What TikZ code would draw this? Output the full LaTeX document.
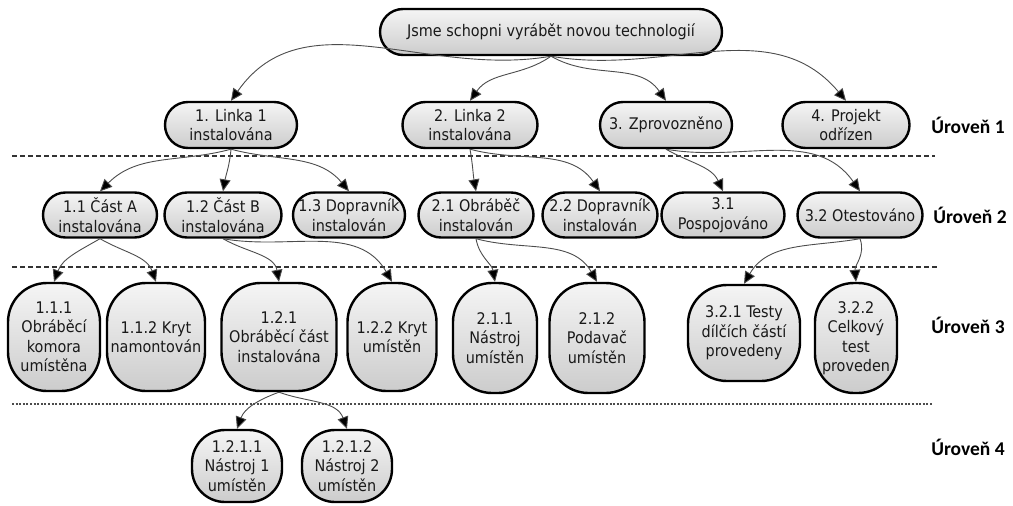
\documentclass[tikz,border=0pt]{standalone}
\usepackage{fontspec}
\setmainfont{Liberation Sans}
\newfontfamily\nodefont{DejaVu Sans Condensed}
\newfontfamily\lvlfont{Carlito}
\usetikzlibrary{arrows.meta}
\begin{document}
\begin{tikzpicture}[x=1pt,y=1pt,
  box/.style={draw=black, line width=2.4pt, top color=black!4, bottom color=black!20,
    align=center, inner sep=0pt, text=black!90,
    font=\nodefont\fontsize{16}{19.5}\selectfont},
  pill/.style={box, rounded corners=22.5pt, minimum height=45pt},
  tall/.style={box, rounded corners=39pt, minimum height=108pt},
  conn/.style={draw=black!70, line width=0.9pt, -{Triangle[length=12pt,width=11pt,fill=black]}},
  sepline/.style={draw=black!80, line width=2pt, dash pattern=on 5pt off 3pt},
  sepfine/.style={draw=black!70, line width=1.3pt, dash pattern=on 2pt off 1.6pt},
  lvl/.style={font=\lvlfont\bfseries\fontsize{19.5}{22}\selectfont, text=black}
]
\useasboundingbox (0,0) rectangle (1013,-506);

% separators
\coordinate (s1a) at (12,-156); \coordinate (s1b) at (935,-156);
\coordinate (s2a) at (12,-267); \coordinate (s2b) at (937,-267);
\coordinate (s3a) at (12,-404); \coordinate (s3b) at (933,-404);
\draw[sepline] (s1a) -- (s1b);
\draw[sepline] (s2a) -- (s2b);
\draw[sepfine] (s3a) -- (s3b);

% level labels
\node[lvl] (u1) at (968,-125) {Úroveň 1};
\node[lvl] (u2) at (970,-215) {Úroveň 2};
\node[lvl] (u3) at (968,-325) {Úroveň 3};
\node[lvl] (u4) at (968,-447) {Úroveň 4};

% nodes
\node[box, rounded corners=23pt, minimum width=342pt, minimum height=46pt] (root) at (551,-32) {Jsme schopni vyrábět novou technologií};

\node[pill, minimum width=132pt, minimum height=46pt, rounded corners=23pt] (n1) at (231,-125) {1. Linka 1\\instalována};
\node[pill, minimum width=135pt, minimum height=46pt, rounded corners=23pt] (n2) at (470,-125) {2. Linka 2\\instalována};
\node[pill, minimum width=132pt, minimum height=46pt, rounded corners=23pt] (n3) at (666,-125) {3. Zprovozněno};
\node[pill, minimum width=127pt, minimum height=46pt, rounded corners=23pt] (n4) at (846,-125) {4. Projekt\\odřízen};

\node[pill, minimum width=114pt] (n11) at (100,-215) {1.1 Část A\\instalována};
\node[pill, minimum width=117pt] (n12) at (223,-215) {1.2 Část B\\instalována};
\node[pill, minimum width=112pt] (n13) at (349,-215) {1.3 Dopravník\\instalován};
\node[pill, minimum width=115pt] (n21) at (476,-215) {2.1 Obráběč\\instalován};
\node[pill, minimum width=115pt] (n22) at (600,-215) {2.2 Dopravník\\instalován};
\node[pill, minimum width=123pt] (n31) at (723,-215) {3.1\\Pospojováno};
\node[pill, minimum width=125pt] (n32) at (860,-215) {3.2 Otestováno};

\node[tall, minimum width=92pt] (n111) at (54,-337) {1.1.1\\Obráběcí\\komora\\umístěna};
\node[tall, minimum width=98pt] (n112) at (156,-337) {1.1.2 Kryt\\namontován};
\node[tall, minimum width=115pt] (n121) at (279,-337) {1.2.1\\Obráběcí část\\instalována};
\node[tall, minimum width=89pt] (n122) at (392,-337) {1.2.2 Kryt\\umístěn};
\node[tall, minimum width=84pt, minimum height=110pt] (n211) at (495,-338) {2.1.1\\Nástroj\\umístěn};
\node[tall, minimum width=95pt, minimum height=110pt] (n212) at (597,-338) {2.1.2\\Podavač\\umístěn};
\node[tall, minimum width=112pt, minimum height=96pt] (n321) at (744,-333) {3.2.1 Testy\\dílčích částí\\provedeny};
\node[tall, minimum width=82pt, minimum height=110pt] (n322) at (856,-338) {3.2.2\\Celkový\\test\\proveden};

\node[box, rounded corners=33pt, minimum width=90pt, minimum height=72pt] (n1211) at (237,-466) {1.2.1.1\\Nástroj 1\\umístěn};
\node[box, rounded corners=33pt, minimum width=90pt, minimum height=72pt] (n1212) at (347,-466) {1.2.1.2\\Nástroj 2\\umístěn};

% connectors
\draw[conn] (root.south) to[out=190,in=55] (n1.north);
\draw[conn] (root.south) to[out=215,in=55] (n2.north);
\draw[conn] (root.south) to[out=-30,in=125] (n3.north);
\draw[conn] (root.south) to[out=-10,in=130] (n4.north);

\draw[conn] (n1.south) to[out=195,in=45] (n11.north);
\draw[conn] (n1.south) to[out=-95,in=80] (n12.north);
\draw[conn] (n1.south) to[out=-15,in=130] (n13.north);
\draw[conn] (n2.south) to[out=-80,in=100] (n21.north);
\draw[conn] (n2.south) to[out=-15,in=125] (n22.north);
\draw[conn] (n3.south) to[out=-30,in=115] (n31.north);
\draw[conn] (n3.south) to[out=-10,in=125] (n32.north);

\draw[conn] (n11.south) to[out=210,in=70] (n111.north);
\draw[conn] (n11.south) to[out=-30,in=110] (n112.north);
\draw[conn] (n12.south) to[out=-30,in=100] (n121.north);
\draw[conn] (n12.south) to[out=-10,in=120] (n122.north);
\draw[conn] (n21.south) to[out=-80,in=100] (n211.north);
\draw[conn] (n21.south) to[out=-15,in=120] (n212.north);
\draw[conn] (n32.south) to[out=190,in=60] (n321.north);
\draw[conn] (n32.south) to[out=-70,in=95] (n322.north);

\draw[conn] (n121.south) to[out=200,in=70] (n1211.north);
\draw[conn] (n121.south) to[out=-20,in=110] (n1212.north);
\end{tikzpicture}
\end{document}
